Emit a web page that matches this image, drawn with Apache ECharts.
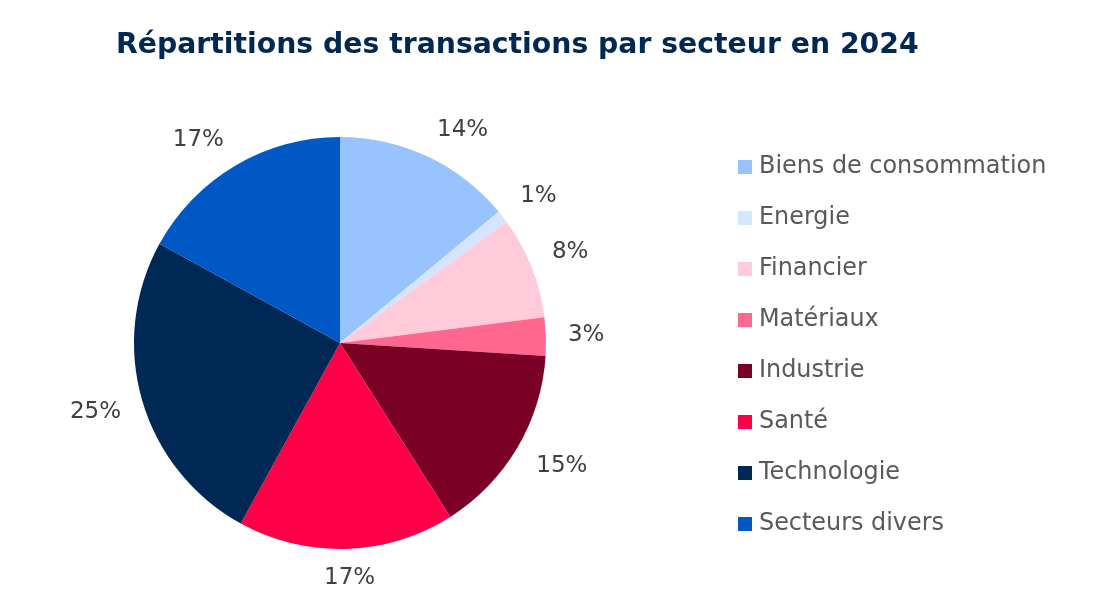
<!DOCTYPE html>
<html><head><meta charset="utf-8">
<script src="https://cdn.jsdelivr.net/npm/echarts@6/dist/echarts.min.js"></script>
<style>html,body{margin:0;padding:0;background:#fff}#c{width:1097px;height:615px}</style>
</head><body><div id="c"></div>
<script>
const categories = ['Biens de consommation','Energie','Financier','Matériaux','Industrie','Santé','Technologie','Secteurs divers'];
const values = [14, 1, 8, 3, 15, 17, 25, 17];
const colors = ['#97C4FF','#D5E5FF','#FFCADA','#FF6690','#7B0025','#FF0048','#002855','#0058C4'];
const titleText = 'Répartitions des transactions par secteur en 2024';

const CX = 340, CY = 343, R = 206, GAP = 22;
const total = values.reduce((a,b)=>a+b,0);
const cum = [];
values.reduce((acc,v,i)=>{cum[i]=acc; return acc+v;},0);

const chart = echarts.init(document.getElementById('c'));
chart.setOption({
  animation:false,
  title:{text:titleText,left:111,top:27,textStyle:{fontFamily:'DejaVu Sans',fontWeight:'bold',fontSize:28.3,color:'#002855'}},
  legend:{orient:'vertical',left:733,top:150,itemWidth:14,itemHeight:14,itemGap:27,icon:'rect',
    textStyle:{fontFamily:'DejaVu Sans',fontSize:23.9,color:'#595959',padding:[0,0,0,2]},data:categories},
  series:[{
    type:'pie',center:[CX,CY],radius:R,startAngle:90,clockwise:true,
    data:categories.map((c,i)=>({name:c,value:values[i],itemStyle:{color:colors[i]}})),
    label:{show:true,position:'outside',formatter:p=>p.value+'%',fontFamily:'DejaVu Sans',fontSize:23,color:'#404040'},
    labelLine:{show:false},
    emphasis:{disabled:true},
    labelLayout:function(p){
      const i=p.dataIndex;
      const th=(cum[i]+values[i]/2)/total*2*Math.PI;
      const ux=Math.sin(th), uy=-Math.cos(th);
      const w=p.labelRect.width, h=p.labelRect.height;
      const cl=v=>Math.max(-1,Math.min(1,v*3));
      return {x:CX+ux*(R+GAP)+w/2*cl(ux), y:CY+uy*(R+GAP)+h/2*0.6*cl(uy), align:'center', verticalAlign:'middle'};
    }
  }]
});
</script></body></html>
